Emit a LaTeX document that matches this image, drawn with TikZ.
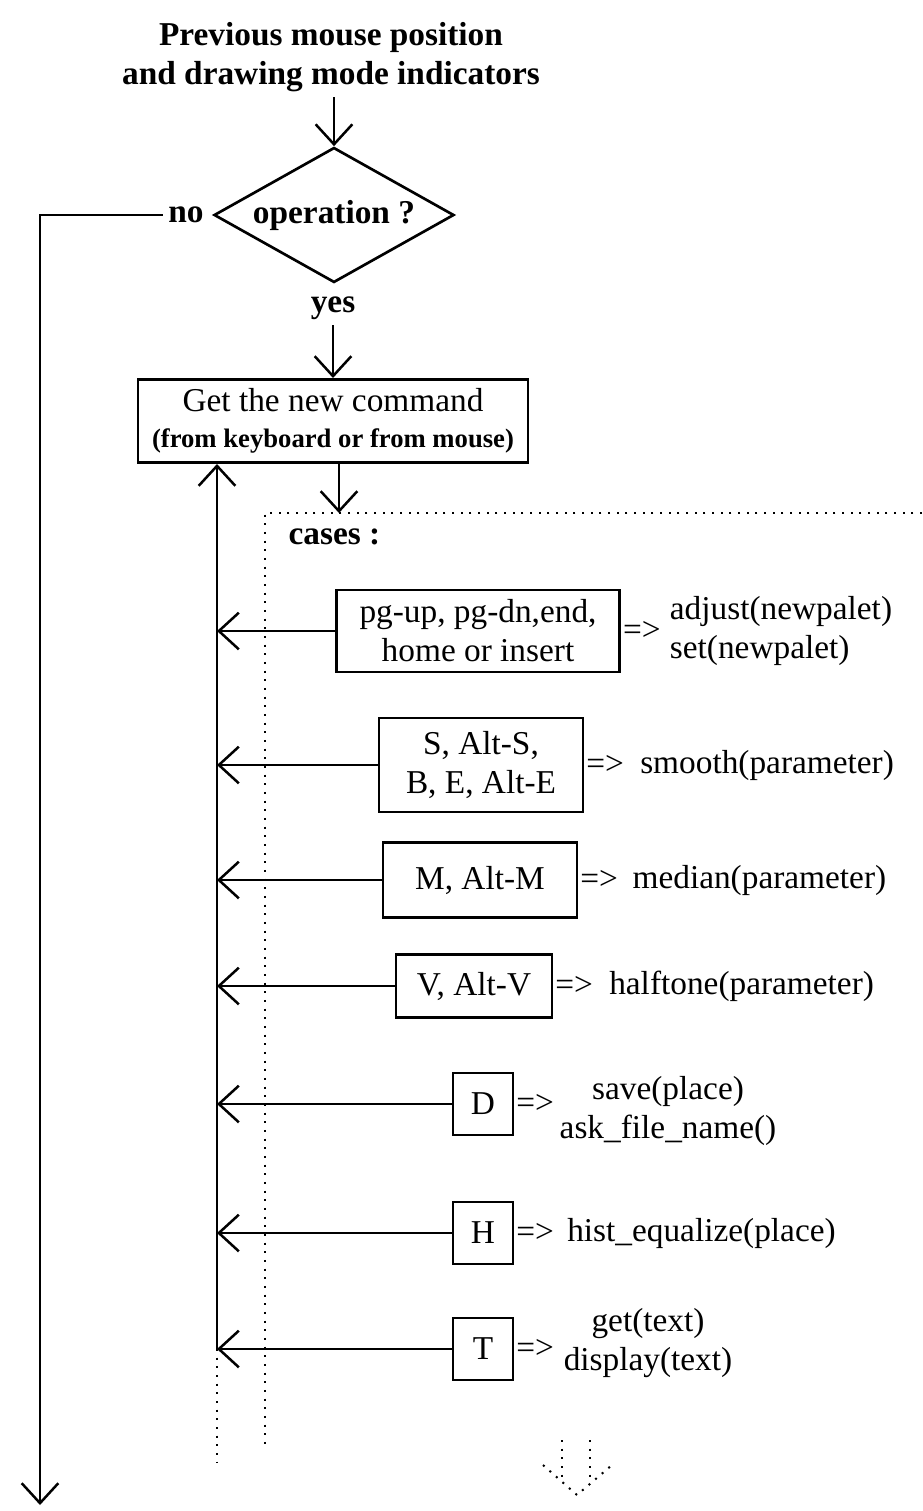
\documentclass[tikz,border=0pt]{standalone}
\usepackage{fontspec}
\setmainfont{Liberation Serif}
\usepackage{tikz}
\usetikzlibrary{positioning, arrows.meta, shapes.geometric}

\begin{document}
\begin{tikzpicture}[
            x=0.3pt, y=-0.3pt,
            every node/.style={
                    font=\fontsize{10}{11.7}\selectfont
                },
            box/.style={
                    draw,
                    line width=0.8pt,
                    inner sep=0pt,
                    align=center
                },
            decision/.style={
                    draw,
                    diamond,
                    aspect=1.78,
                    inner sep=0pt,
                    line width=0.8pt,
                    minimum width=72pt,
                    minimum height=40.5pt,
                    font=\fontsize{10}{11.7}\selectfont\bfseries
                },
            label/.style={
                    inner sep=1.5pt,
                    font=\fontsize{10}{11.7}\selectfont\bfseries
                },
            yields/.style={
                    inner sep=0pt
                },
            result/.style={
                    inner sep=0pt,
                    align=left
                },
            arrow/.style={
                    -{Straight Barb[length=6pt,width=11pt]},
                    line width=0.75pt
                },
            frame/.style={
                    dotted,
                    line width=0.6pt
                }
        ]

        \useasboundingbox (0,0) rectangle (922,1511);


        \node[label,align=center] (prev) at (331,57)
        {Previous mouse position\\and drawing mode indicators};


        \node[decision] (op) at (334,215)
        {operation ?};


        \node[label] (no) at (186,215) {no};
        \node[label] (yes) at (333,308) {yes};


        \node[box,minimum width=117pt,minimum height=25pt] (cmd) at (333,421)
        {Get the new command\\[-1pt]{\fontsize{8}{9}\selectfont\bfseries (from keyboard or from mouse)}};


        \coordinate (noCorner) at (40,215);
        \coordinate (noEnd) at (40,1505);
        \coordinate (casesTop) at (339,513);


        \node[label,anchor=west,inner sep=0pt] (cases) at (288,537) {cases :};


        % cases
        \node[box,minimum width=85pt,minimum height=24.6pt] (c1) at (478,631)
        {pg-up, pg-dn,end,\\home or insert};
        \node[box,minimum width=61.2pt,minimum height=28.2pt] (c2) at (481,765)
        {S, Alt-S,\\B, E, Alt-E};
        \node[box,minimum width=58.2pt,minimum height=22.5pt] (c3) at (480,880)
        {M, Alt-M};
        \node[box,minimum width=46.8pt,minimum height=18.9pt] (c4) at (474,986)
        {V, Alt-V};
        \node[box,minimum width=18pt,minimum height=18.6pt] (c5) at (483,1104)
        {D};
        \node[box,minimum width=18pt,minimum height=18.6pt] (c6) at (483,1233)
        {H};
        \node[box,minimum width=18pt,minimum height=18.6pt] (c7) at (483,1349)
        {T};


        \node[yields,right=0.4pt of c1] (y1) {=>};
        \node[yields,right=0.4pt of c2] (y2) {=>};
        \node[yields,right=0.4pt of c3] (y3) {=>};
        \node[yields,right=0.4pt of c4] (y4) {=>};
        \node[yields,right=0.4pt of c5] (y5) {=>};
        \node[yields,right=0.4pt of c6] (y6) {=>};
        \node[yields,right=0.4pt of c7] (y7) {=>};


        \node[result,right=2.4pt of y1] (r1) {adjust(newpalet)\\set(newpalet)};
        \node[result,right=4.5pt of y2] (r2) {smooth(parameter)};
        \node[result,right=4pt of y3] (r3) {median(parameter)};
        \node[result,right=4.5pt of y4] (r4) {halftone(parameter)};
        \node[result,align=center] (r5) at (668,1111) {save(place)\\ask\_file\_name()};
        \node[result,right=3.6pt of y6] (r6) {hist\_equalize(place)};
        \node[result,align=center] (r7) at (648,1343) {get(text)\\display(text)};


        % return line
        \foreach \i in {1,...,7}
        \coordinate (b\i) at (217,0 |- c\i);
        \coordinate (busEnd) at (217,1462);


        \draw[arrow](prev.south -| op)--(op);
        \draw[arrow](no)--(noCorner)--(noEnd);
        \draw[arrow](yes)--(cmd);
        \draw[arrow](cmd.south -| casesTop)--(casesTop);
        \foreach \i in {1,...,7}
        \draw[arrow](c\i)--(b\i);
        \draw[arrow](b7)--(b7 |- cmd.south);


        \draw[frame](922,513)-|(265,1445);
        \draw[frame](b7)--(busEnd);
        \draw[frame](562,1440)--(562,1478);
        \draw[frame](590,1440)--(590,1478);
        \draw[frame](543,1465)--(577,1495)--(612,1465);


    \end{tikzpicture}
\end{document}
